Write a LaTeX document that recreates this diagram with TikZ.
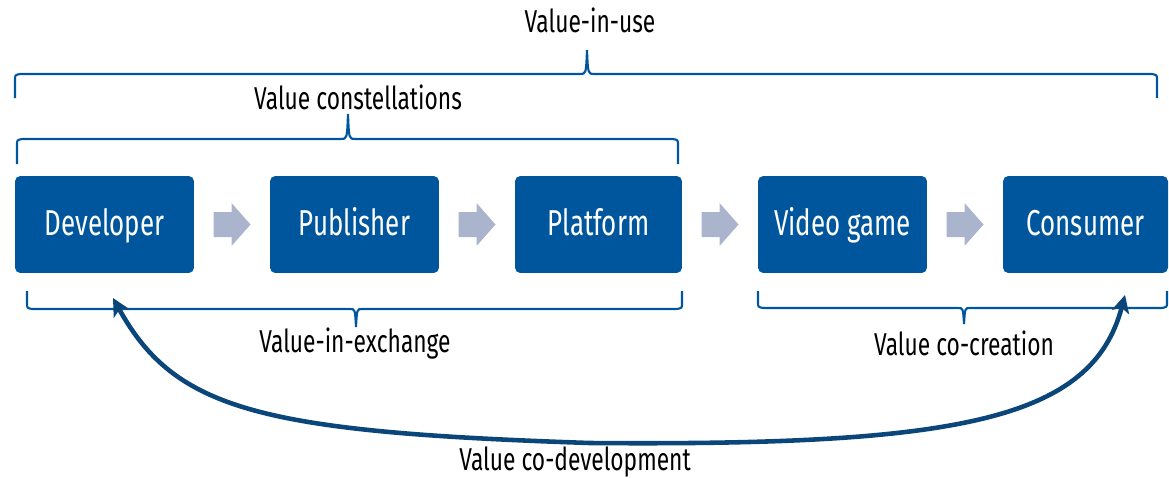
\documentclass[tikz,border=0pt]{standalone}
\usepackage{fontspec}
\setmainfont{Fira Sans}[FakeStretch=0.72]
\usetikzlibrary{arrows.meta,calc}
\definecolor{boxblue}{RGB}{0,86,156}
\definecolor{navy}{RGB}{10,70,122}
\definecolor{flowgray}{RGB}{170,180,205}
\begin{document}
\begin{tikzpicture}[x=0.02cm,y=-0.02cm,
  stage/.style={fill=boxblue,rounded corners=3pt,text=white,minimum height=1.94cm,text height=14.2pt,text depth=2.2pt,font=\fontsize{20.5}{24}\selectfont},
  flowarrow/.style={fill=flowgray},
  bracket/.style={draw=boxblue,line width=1.2pt},
  lbl/.style={font=\fontsize{18}{22}\selectfont,inner sep=0pt},
  codev/.style={draw=navy,line width=2.6pt,{Stealth[length=10pt,width=10pt,inset=2.5pt]}-{Stealth[length=10pt,width=10pt,inset=2.5pt]}}]
\useasboundingbox (0,0) rectangle (1169,477);
\node[stage,minimum width=3.58cm] (dev) at (104.5,224.5) {Developer};
\node[stage,minimum width=3.38cm] (pub) at (354.5,224.5) {Publisher};
\node[stage,minimum width=3.34cm] (plat) at (598.5,224.5) {Platform};
\node[stage,minimum width=3.38cm] (game) at (842.5,224.5) {Video game};
\node[stage,minimum width=3.30cm] (cons) at (1085.5,224.5) {Consumer};
% grey arrows between the stages
\foreach \a/\b in {dev/pub,pub/plat,plat/game,game/cons}
  \fill[flowarrow] ($(\a.east)!0.5!(\b.west)$) ++(-18.5,-12.5) -- ++(18,0) -- ++(0,-9) -- ++(19,21.5) -- ++(-19,21.5) -- ++(0,-9) -- ++(-18,0) -- cycle;
% braces
\draw[bracket] (15,98) -- (15,80) .. controls (15,75) .. (20,74) -- (580,74) .. controls (586,74) .. (587,50) .. controls (588,74) .. (594,74) -- (1152,74) .. controls (1157,75) .. (1157,80) -- (1157,98);
\draw[bracket] (17,164) -- (17,145) .. controls (17,140) .. (22,139) -- (341,139) .. controls (347,139) .. (348,114) .. controls (349,139) .. (355,139) -- (673,139) .. controls (678,140) .. (678,145) -- (678,164);
\draw[bracket] (27,291) -- (27,303) .. controls (27,308) .. (32,309) -- (350,309) .. controls (355,309) .. (356,327) .. controls (357,309) .. (362,309) -- (677,309) .. controls (682,308) .. (682,303) -- (682,291);
\draw[bracket] (758,291) -- (758,302) .. controls (758,307) .. (763,308) -- (958,308) .. controls (963,308) .. (964,324) .. controls (965,308) .. (970,308) -- (1162,308) .. controls (1167,307) .. (1167,302) -- (1167,291);
\node[lbl] (use) at (590,20) {Value-in-use};
\node[lbl] (const) at (358,97) {Value constellations};
\node[lbl] (exch) at (355,344) {Value-in-exchange};
\node[lbl] (cocr) at (964,343) {Value co-creation};
% co-development loop
\coordinate (devin) at (113,298);
\coordinate (consin) at (1125,295);
\coordinate (low) at (590,443);
\draw[codev] (devin) .. controls (175,410) and (260,432) .. (low) .. controls (960,446) and (1092,420) .. (consin);
\node[lbl] (codevl) at (575,462) {Value co-development};
\end{tikzpicture}
\end{document}
